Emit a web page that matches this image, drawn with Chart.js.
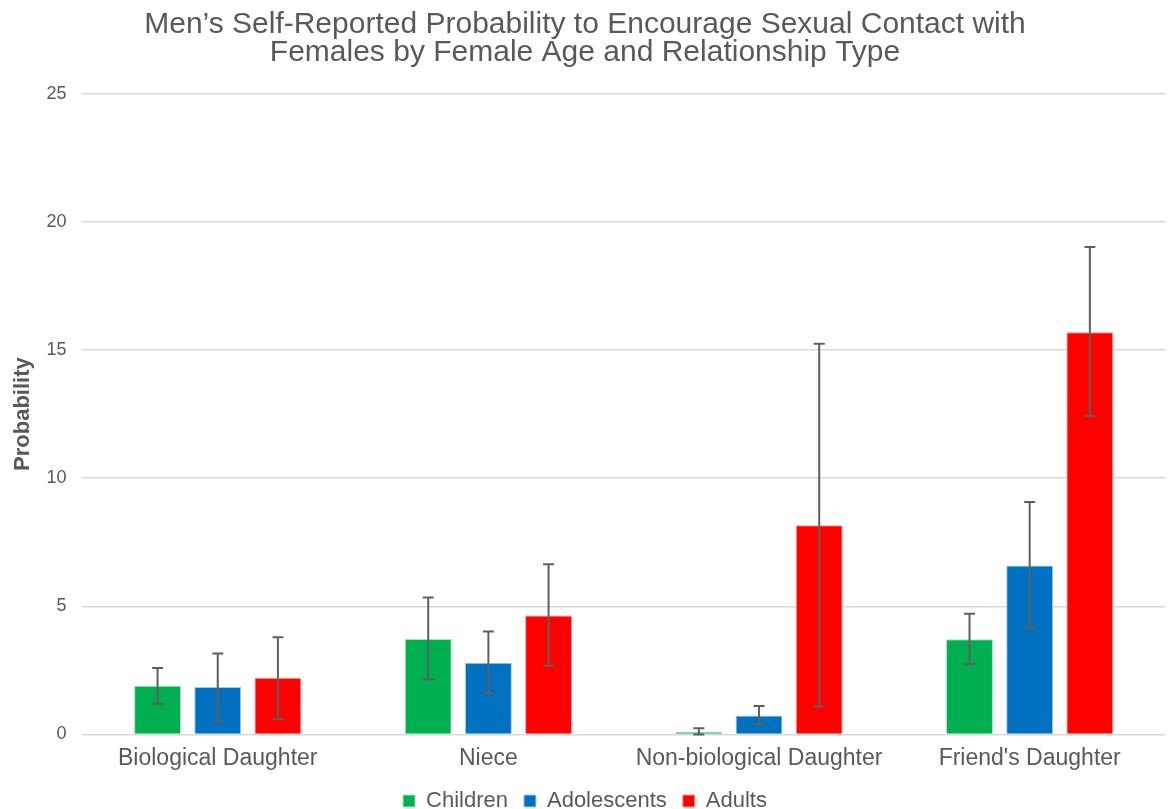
<!DOCTYPE html>
<html>
<head>
<meta charset="utf-8">
<script src="https://cdn.jsdelivr.net/npm/chart.js@4.4.1/dist/chart.umd.min.js"></script>
<style>
  html, body { margin: 0; padding: 0; background: #fff; }
  #wrap { width: 1171px; height: 809px; }
</style>
</head>
<body>
<div id="wrap"><canvas id="chart1"></canvas></div>
<script>
// data
const categories = ['Biological Daughter', 'Niece', 'Non-biological Daughter', "Friend's Daughter"];

const children = [1.9, 3.72, 0.1, 3.71];
const childrenLow = [1.2, 2.15, 0.0, 2.75];
const childrenHigh = [2.59, 5.34, 0.24, 4.71];

const adolescents = [1.85, 2.8, 0.74, 6.59];
const adolescentsLow = [0.53, 1.61, 0.4, 4.17];
const adolescentsHigh = [3.16, 4.02, 1.11, 9.07];

const adults = [2.21, 4.64, 8.16, 15.69];
const adultsLow = [0.6, 2.68, 1.09, 12.42];
const adultsHigh = [3.79, 6.64, 15.25, 19.02];

const yTicks = [0, 5, 10, 15, 20, 25];

const errLow = [childrenLow, adolescentsLow, adultsLow];
const errHigh = [childrenHigh, adolescentsHigh, adultsHigh];

Chart.defaults.font.family = 'Liberation Sans, Arial, sans-serif';
Chart.defaults.color = '#595959';

// error bars drawn from the y scale
const errorBars = {
  id: 'errorBars',
  afterDatasetsDraw(chart) {
    const ctx = chart.ctx;
    const y = chart.scales.y;
    ctx.save();
    ctx.strokeStyle = '#5f5f5f';
    ctx.lineWidth = 2;
    chart.data.datasets.forEach((ds, i) => {
      const meta = chart.getDatasetMeta(i);
      meta.data.forEach((bar, j) => {
        const top = y.getPixelForValue(errHigh[i][j]);
        const bot = y.getPixelForValue(errLow[i][j]);
        ctx.beginPath();
        ctx.moveTo(bar.x, top);
        ctx.lineTo(bar.x, bot);
        ctx.moveTo(bar.x - 5.5, top);
        ctx.lineTo(bar.x + 5.5, top);
        ctx.moveTo(bar.x - 5.5, bot);
        ctx.lineTo(bar.x + 5.5, bot);
        ctx.stroke();
      });
    });
    ctx.restore();
  }
};

const CHART1 = document.getElementById('chart1').getContext('2d');

const Chart1 = new Chart(CHART1, {
  type: 'bar',
  data: {
    labels: categories,
    datasets: [{
      label: 'Children',
      data: children,
      backgroundColor: '#00B050',
      borderColor: '#a8e0bc',
      borderWidth: 1
    }, {
      label: 'Adolescents',
      data: adolescents,
      backgroundColor: '#0070C0',
      borderColor: '#a6c8e6',
      borderWidth: 1
    }, {
      label: 'Adults',
      data: adults,
      backgroundColor: '#FF0000',
      borderColor: '#ff9a9a',
      borderWidth: 1
    }]
  },
  options: {
    responsive: true,
    maintainAspectRatio: false,
    animation: false,
    categoryPercentage: 0.667,
    barPercentage: 0.78,
    layout: { padding: { left: 5, right: 6, top: 2, bottom: -13 } },
    plugins: {
      title: {
        display: true,
        text: ["Men\u2019s Self-Reported Probability to Encourage Sexual Contact with", 'Females by Female Age and Relationship Type'],
        color: '#595959',
        font: { size: 30, weight: 'normal', lineHeight: 0.93 },
        padding: { top: 9, bottom: 27 }
      },
      legend: {
        position: 'bottom',
        labels: {
          boxWidth: 12,
          boxHeight: 12,
          padding: 16,
          color: '#595959',
          font: { size: 22 }
        }
      },
      tooltip: { enabled: false }
    },
    scales: {
      x: {
        grid: { display: false },
        border: { display: false },
        ticks: { color: '#595959', font: { size: 23 }, padding: 2 }
      },
      y: {
        min: 0,
        max: 25,
        afterBuildTicks: (axis) => { axis.ticks = yTicks.map(v => ({ value: v })); },
        afterFit: (axis) => { axis.width -= 6; },
        grid: { color: '#d9d9d9', lineWidth: 1.5, drawTicks: false },
        border: { display: false },
        ticks: { color: '#595959', font: { size: 18 }, padding: 16 },
        title: {
          display: true,
          text: 'Probability',
          color: '#595959',
          font: { size: 22, weight: 'bold' },
          padding: { top: 5, bottom: 0 }
        }
      }
    }
  },
  plugins: [errorBars]
});
</script>
</body>
</html>
